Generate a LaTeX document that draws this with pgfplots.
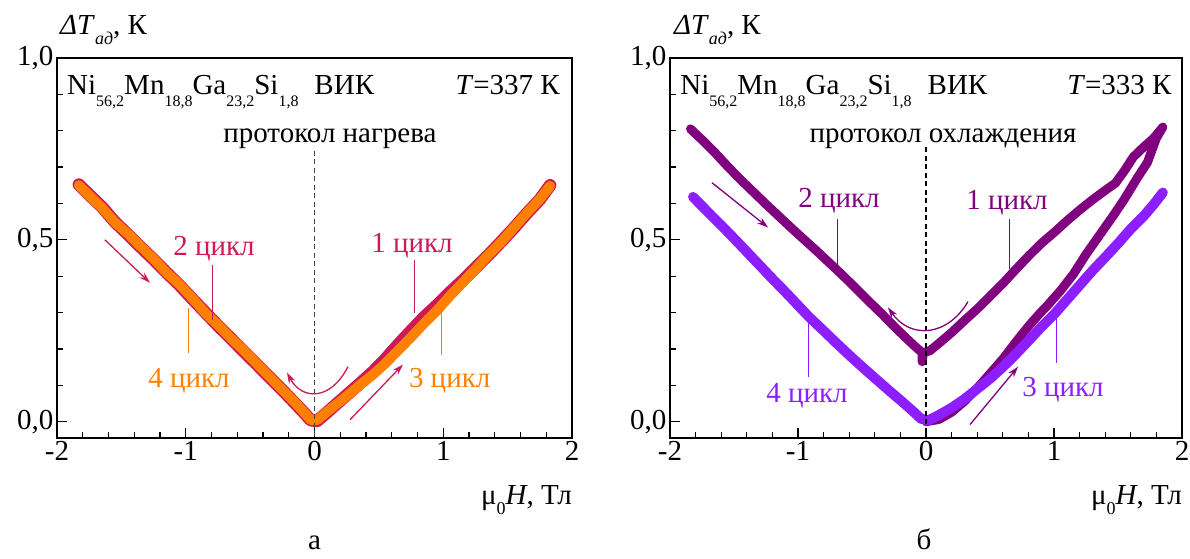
\documentclass[border=0pt]{standalone}
\usepackage{fontspec}
\setmainfont{Liberation Serif}
\usepackage{pgfplots}
\pgfplotsset{compat=1.18}
\usetikzlibrary{arrows.meta}
\definecolor{crim}{RGB}{205,25,85}
\definecolor{orng}{RGB}{255,128,0}
\definecolor{dpurp}{RGB}{128,0,128}
\definecolor{viol}{RGB}{140,30,255}
\definecolor{dashgr}{RGB}{70,70,70}
\newcommand{\F}{\fontsize{29}{34}\selectfont}
\newcommand{\sbs}[1]{\raisebox{-12pt}{\fontsize{16}{16}\selectfont #1}}
\newcommand{\formula}{Ni\sbs{56,2}Mn\sbs{18,8}Ga\sbs{23,2}Si\sbs{1,8}\hspace{0.55em}ВИК}
\newcommand{\ylab}{\textit{ΔT}\raisebox{-10pt}{\fontsize{18}{18}\selectfont\itshape ад}, К}
\newcommand{\xlab}{μ\raisebox{-10pt}{\fontsize{18}{18}\selectfont 0}\textit{H}, Тл}
\pgfplotsset{panel/.style={
  scale only axis, height=380pt,
  xmin=-2, xmax=2, ymin=-0.045, ymax=1.0,
  xtick={-2,-1,0,1,2}, ytick={0,0.5,1},
  minor x tick num=4, minor y tick num=4,
  tick align=inside, tick pos=left,
  major tick length=10pt, minor tick length=6pt,
  axis line style={line width=1.2pt, black},
  every tick/.append style={line width=1.2pt, black},
  tick label style={font=\F},
  /pgf/number format/assume math mode=true,
  yticklabel style={/pgf/number format/use comma, /pgf/number format/fixed,
    /pgf/number format/fixed zerofill, /pgf/number format/precision=1},
  clip=false,
  every axis plot/.append style={line join=round, line cap=round},
}}

\begin{document}
\begin{tikzpicture}
\useasboundingbox (-57pt,-120pt) rectangle (1133pt,438pt);

% --- а: heating protocol
\begin{axis}[panel, width=515pt]
  % cycles 1,2
  \addplot[crim, line width=12.5pt] coordinates {
    (-1.83,0.652) (-1.75,0.624) (-1.65,0.590) (-1.55,0.549) (-1.45,0.515)
    (-1.35,0.480) (-1.25,0.446) (-1.15,0.410) (-1.05,0.376) (-0.95,0.338)
    (-0.85,0.301) (-0.75,0.264) (-0.65,0.229) (-0.55,0.193) (-0.45,0.158)
    (-0.35,0.122) (-0.25,0.087) (-0.15,0.050) (-0.08,0.024) (-0.03,0.004)
    (0.02,0.002) (0.08,0.020) (0.15,0.042) (0.25,0.073) (0.35,0.104)
    (0.45,0.136) (0.55,0.172) (0.65,0.212) (0.75,0.250) (0.85,0.287)
    (0.95,0.320) (1.05,0.355) (1.15,0.388) (1.25,0.423) (1.35,0.458)
    (1.45,0.495) (1.55,0.533) (1.65,0.573) (1.75,0.611) (1.83,0.650)};
  % cycles 3,4
  \addplot[orng, line width=10pt] coordinates {
    (-1.83,0.650) (-1.75,0.622) (-1.65,0.588) (-1.55,0.548) (-1.45,0.517)
    (-1.35,0.482) (-1.25,0.448) (-1.15,0.410) (-1.05,0.378) (-0.95,0.340)
    (-0.85,0.300) (-0.75,0.266) (-0.65,0.230) (-0.55,0.196) (-0.45,0.160)
    (-0.35,0.124) (-0.25,0.088) (-0.15,0.052) (-0.08,0.025) (-0.03,0.005)
    (0.02,0.004) (0.08,0.022) (0.15,0.042) (0.25,0.070) (0.35,0.100)
    (0.45,0.128) (0.55,0.160) (0.65,0.196) (0.75,0.232) (0.85,0.270)
    (0.95,0.305) (1.05,0.345) (1.15,0.382) (1.25,0.420) (1.35,0.458)
    (1.45,0.494) (1.55,0.534) (1.65,0.574) (1.75,0.612) (1.83,0.648)};

  \draw[dashgr, line width=1.5pt, dash pattern=on 5pt off 3.5pt]
    (axis cs:0,0.745) -- (axis cs:0,-0.045);

  \node[font=\F, anchor=base west, inner sep=0pt] at (axis cs:-1.977,1.065) {\ylab};
  \node[font=\F, anchor=base west, inner sep=0pt] at (axis cs:-1.922,0.900) {\formula};
  \node[font=\F, anchor=base east, inner sep=0pt] at (axis cs:1.907,0.900) {\textit{T}=337 К};
  \node[font=\F, anchor=base, inner sep=0pt] at (axis cs:0.12,0.7675) {протокол нагрева};
  \node[font=\F, anchor=base east, inner sep=0pt] at (axis cs:2.0,-0.228) {\xlab};
  \node[font=\F, anchor=base, inner sep=0pt] at (axis cs:0,-0.352) {а};

  \node[font=\F, crim, anchor=base, inner sep=0pt] at (axis cs:-0.78,0.457) {2 цикл};
  \draw[crim, line width=1pt] (axis cs:-0.794,0.430) -- (axis cs:-0.794,0.280);
  \node[font=\F, crim, anchor=base, inner sep=0pt] at (axis cs:0.757,0.465) {1 цикл};
  \draw[crim, line width=1pt] (axis cs:0.78,0.445) -- (axis cs:0.78,0.300);
  \node[font=\F, orng, anchor=base, inner sep=0pt] at (axis cs:-0.975,0.0935) {4 цикл};
  \draw[orng, line width=1pt] (axis cs:-0.975,0.313) -- (axis cs:-0.975,0.190);
  \node[font=\F, orng, anchor=base, inner sep=0pt] at (axis cs:1.05,0.0935) {3 цикл};
  \draw[orng, line width=1pt] (axis cs:0.99,0.328) -- (axis cs:0.99,0.184);

  \draw[crim, line width=1.3pt, -{Stealth[length=11pt,width=7pt]}]
    (axis cs:-1.628,0.500) -- (axis cs:-1.278,0.382);
  \draw[crim, line width=1.3pt, -{Stealth[length=11pt,width=7pt]}]
    (axis cs:0.276,0.0055) -- (axis cs:0.687,0.157);
  \draw[crim, line width=1.3pt, -{Stealth[length=11pt,width=7pt]}]
    (axis cs:0.26,0.151) .. controls (axis cs:0.12,0.055) and (axis cs:-0.10,0.060) .. (axis cs:-0.214,0.135);
\end{axis}

% --- б: cooling protocol
\begin{axis}[panel, width=512pt, at={(613pt,0pt)}]
  % cycles 1,2
  \addplot[dpurp, line width=9pt] coordinates {
    (-1.84,0.805) (-1.75,0.775) (-1.65,0.740) (-1.55,0.702) (-1.45,0.666)
    (-1.35,0.632) (-1.25,0.598) (-1.15,0.565) (-1.05,0.532) (-0.95,0.500)
    (-0.85,0.468) (-0.75,0.435) (-0.65,0.402) (-0.55,0.367) (-0.45,0.332)
    (-0.35,0.298) (-0.25,0.262) (-0.15,0.228) (-0.08,0.205) (-0.03,0.190)
    (-0.03,0.165) (-0.02,0.190) (0.03,0.195) (0.10,0.215) (0.20,0.245)
    (0.30,0.278) (0.40,0.310) (0.50,0.345) (0.60,0.380) (0.70,0.418)
    (0.80,0.455) (0.90,0.490) (1.00,0.520) (1.10,0.552) (1.20,0.582)
    (1.30,0.610) (1.40,0.636) (1.48,0.656) (1.55,0.690) (1.62,0.728)
    (1.70,0.755) (1.78,0.780) (1.85,0.810) (1.80,0.780) (1.73,0.713)
    (1.65,0.670) (1.55,0.612) (1.46,0.565) (1.35,0.510) (1.25,0.460)
    (1.15,0.405) (1.05,0.360) (0.95,0.320) (0.89,0.298) (0.80,0.262)
    (0.70,0.218) (0.60,0.172) (0.50,0.132) (0.40,0.092) (0.30,0.056)
    (0.20,0.026) (0.10,0.006) (0.00,0.000)};
  % cycles 3,4
  \addplot[viol, line width=10pt] coordinates {
    (-1.82,0.618) (-1.70,0.575) (-1.60,0.540) (-1.50,0.504) (-1.40,0.467)
    (-1.30,0.430) (-1.20,0.393) (-1.10,0.357) (-1.00,0.320) (-0.92,0.290)
    (-0.80,0.250) (-0.70,0.216) (-0.60,0.183) (-0.50,0.151) (-0.40,0.120)
    (-0.30,0.089) (-0.20,0.059) (-0.10,0.028) (-0.04,0.008)
    (0.02,0.004) (0.10,0.018) (0.20,0.038) (0.30,0.062) (0.40,0.090)
    (0.50,0.118) (0.60,0.150) (0.70,0.185) (0.80,0.222) (0.90,0.260)
    (1.00,0.295) (1.10,0.335) (1.20,0.375) (1.30,0.415) (1.40,0.452)
    (1.50,0.490) (1.60,0.530) (1.70,0.565) (1.78,0.598) (1.85,0.630)};

  \draw[black, line width=1.5pt, dash pattern=on 5pt off 3.5pt]
    (axis cs:0,0.754) -- (axis cs:0,-0.045);

  \node[font=\F, anchor=base west, inner sep=0pt] at (axis cs:-1.97,1.065) {\ylab};
  \node[font=\F, anchor=base west, inner sep=0pt] at (axis cs:-1.92,0.900) {\formula};
  \node[font=\F, anchor=base east, inner sep=0pt] at (axis cs:1.92,0.900) {\textit{T}=333 К};
  \node[font=\F, anchor=base, inner sep=0pt] at (axis cs:0.133,0.7675) {протокол охлаждения};
  \node[font=\F, anchor=base east, inner sep=0pt] at (axis cs:2.0,-0.228) {\xlab};
  \node[font=\F, anchor=base, inner sep=0pt] at (axis cs:-0.016,-0.352) {б};

  \node[font=\F, dpurp, anchor=base, inner sep=0pt] at (axis cs:-0.68,0.589) {2 цикл};
  \draw[dpurp, line width=1pt] (axis cs:-0.695,0.556) -- (axis cs:-0.695,0.424);
  \node[font=\F, dpurp, anchor=base, inner sep=0pt] at (axis cs:0.633,0.583) {1 цикл};
  \draw[dpurp, line width=1pt] (axis cs:0.656,0.556) -- (axis cs:0.656,0.420);
  \node[font=\F, viol, anchor=base, inner sep=0pt] at (axis cs:-0.93,0.052) {4 цикл};
  \draw[viol, line width=1pt] (axis cs:-0.92,0.272) -- (axis cs:-0.92,0.124);
  \node[font=\F, viol, anchor=base, inner sep=0pt] at (axis cs:1.07,0.069) {3 цикл};
  \draw[viol, line width=1pt] (axis cs:1.023,0.300) -- (axis cs:1.023,0.162);

  \draw[dpurp, line width=1.3pt, -{Stealth[length=11pt,width=7pt]}]
    (axis cs:-1.672,0.657) -- (axis cs:-1.234,0.534);
  \draw[dpurp, line width=1.3pt, -{Stealth[length=11pt,width=7pt]}]
    (axis cs:0.344,-0.008) -- (axis cs:0.719,0.151);
  \draw[dpurp, line width=1.3pt, -{Stealth[length=11pt,width=7pt]}]
    (axis cs:0.328,0.330) .. controls (axis cs:0.17,0.235) and (axis cs:-0.12,0.225) .. (axis cs:-0.297,0.314);
\end{axis}
\end{tikzpicture}
\end{document}
